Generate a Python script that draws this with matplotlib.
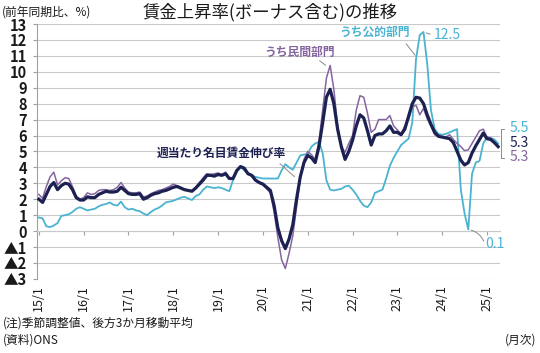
import numpy as np
import matplotlib
matplotlib.use("Agg")
import matplotlib.pyplot as plt

plt.rcParams['font.family'] = ['Noto Sans CJK JP', 'DejaVu Sans']

# 前年同期比(%)、2015/1〜2025/4 の月次(3か月移動平均)
total = [2.0, 1.8, 2.3, 2.8, 3.05, 2.6, 2.85, 3.0, 2.95, 2.6, 2.1, 1.95,
         1.95, 2.15, 2.1, 2.1, 2.3, 2.4, 2.5, 2.45, 2.45, 2.5, 2.75, 2.55,
         2.35, 2.3, 2.3, 2.35, 2.0, 2.1, 2.25, 2.35, 2.4, 2.5, 2.55, 2.65,
         2.75, 2.8, 2.7, 2.6, 2.55, 2.5, 2.7, 2.95, 3.2, 3.5, 3.5, 3.45,
         3.55, 3.5, 3.6, 3.3, 3.3, 3.8, 4.05, 3.95, 3.6, 3.5, 3.2, 3.05,
         2.95, 2.75, 2.55, 1.6, 0.2, -0.6, -1.1, -0.5, 0.4, 2.0, 3.4, 4.3,
         4.75, 4.6, 4.3, 5.3, 6.8, 8.4, 8.9, 8.0, 6.4, 5.3, 4.5, 5.0,
         5.7, 6.6, 7.3, 7.1, 6.3, 5.4, 6.0, 6.1, 6.1, 6.3, 6.6, 6.2,
         6.2, 6.05, 6.4, 7.2, 8.0, 8.4, 8.35, 8.0, 7.3, 6.7, 6.2, 5.95,
         5.9, 5.85, 5.8, 5.55, 5.0, 4.45, 4.15, 4.3, 4.9, 5.35, 5.75, 6.15,
         5.8, 5.75, 5.55, 5.3]
private = [2.3, 2.05, 2.8, 3.4, 3.7, 2.9, 3.15, 3.35, 3.3, 2.8, 2.2, 2.0,
           2.1, 2.4, 2.3, 2.35, 2.55, 2.6, 2.6, 2.55, 2.6, 2.75, 3.05, 2.7,
           2.45, 2.4, 2.4, 2.45, 2.15, 2.2, 2.35, 2.45, 2.55, 2.6, 2.7, 2.8,
           2.95, 2.85, 2.75, 2.6, 2.55, 2.55, 2.75, 3.05, 3.35, 3.6, 3.55, 3.6,
           3.65, 3.55, 3.7, 3.3, 3.35, 3.85, 4.05, 3.95, 3.6, 3.45, 3.15, 3.0,
           2.9, 2.65, 2.4, 1.2, -0.4, -1.8, -2.35, -1.4, -0.3, 1.5, 3.3, 4.5,
           5.0, 4.8, 4.5, 5.6, 7.6, 9.6, 10.4, 8.9, 6.6, 5.3, 4.95, 5.5,
           6.0, 7.6, 8.5, 8.4, 7.4, 6.2, 6.4, 7.0, 7.0, 7.0, 7.25, 6.6,
           6.35, 6.1, 6.6, 7.0, 7.8, 7.9, 7.3, 7.7, 7.05, 6.6, 6.05, 5.95,
           5.9, 5.9, 6.05, 5.75, 5.5, 5.3, 5.05, 5.1, 5.5, 5.9, 6.3, 6.4,
           5.9, 5.85, 5.6, 5.3]
public = [0.85, 0.8, 0.3, 0.25, 0.35, 0.5, 0.95, 1.0, 1.05, 1.2, 1.4, 1.5,
          1.4, 1.3, 1.35, 1.4, 1.55, 1.65, 1.7, 1.8, 1.65, 1.6, 1.85, 1.5,
          1.35, 1.4, 1.3, 1.25, 1.1, 1.0, 1.2, 1.35, 1.45, 1.6, 1.8, 1.85,
          1.9, 2.0, 2.1, 2.15, 2.05, 1.95, 2.2, 2.3, 2.6, 2.8, 2.75, 2.7,
          2.75, 2.7, 2.6, 2.5, 3.2, 3.8, 4.05, 3.8, 3.6, 3.5, 3.4, 3.35,
          3.3, 3.3, 3.3, 3.3, 3.3, 3.8, 4.2, 4.0, 3.85, 4.3, 4.75, 4.8,
          4.85, 5.3, 5.5, 5.6, 4.9, 3.2, 2.6, 2.55, 2.6, 2.65, 2.8, 2.85,
          2.6, 2.3, 1.9, 1.6, 1.5, 1.8, 2.4, 2.5, 2.6, 3.3, 4.1, 4.6,
          5.0, 5.4, 5.6, 5.8, 6.8, 10.8, 12.3, 12.5, 10.5, 7.6, 6.4, 6.1,
          6.05, 6.1, 6.2, 6.3, 6.4, 2.6, 1.1, 0.1, 3.6, 4.3, 4.4, 5.5,
          5.9, 5.85, 5.75, 5.5]

year_labels = ['15/1', '16/1', '17/1', '18/1', '19/1', '20/1',
               '21/1', '22/1', '23/1', '24/1', '25/1']
y_ticks = list(range(-3, 14))
y_labels = ['▲3', '▲2', '▲1'] + [str(v) for v in range(0, 14)]

c_total = '#1d2152'
c_private = '#85659f'
c_public = '#4ab3d2'
c_grid = '#c9c9c9'
c_lead = '#8a8a8a'

months = np.arange(len(total))

fig = plt.figure(figsize=(5.4, 3.53), dpi=100)
ax = fig.add_axes([0.0685, 0.21, 0.8575, 0.722])

ax.plot(months, public, color=c_public, lw=1.3, zorder=3)
ax.plot(months, private, color=c_private, lw=1.1, zorder=4)
ax.plot(months, total, color=c_total, lw=2.3, zorder=5)

# 軸(下の軸線は0の位置、ラベルは下端)
for s in ['top', 'right']:
    ax.spines[s].set_visible(False)
ax.spines['bottom'].set_position(('data', 0))
ax.spines['bottom'].set_color(c_grid)
ax.spines['left'].set_color('#a0a0a0')

ax.set_xlim(-0.5, len(total) - 0.5)
ax.set_ylim(-3, 13)
ax.set_yticks(y_ticks)
ax.set_yticklabels(y_labels, fontsize=10.5, color='#1a1a1a', fontweight='bold')
ax.set_xticks(np.arange(len(year_labels)) * 12)
ax.set_xticklabels(year_labels, fontsize=9, color='#1a1a1a')
ax.tick_params(axis='x', length=3, color='#a0a0a0', pad=36, labelrotation=90)
ax.tick_params(axis='y', length=3, color='#a0a0a0', pad=4)

ax.grid(axis='y', color=c_grid, lw=0.8)
ax.set_axisbelow(True)

# 系列ラベルと引き出し線
lead = dict(arrowstyle='-', color=c_lead, lw=0.7)
ax.text(99.4, 12.45, 'うち公的部門', color=c_public, fontsize=8.5,
        fontweight='bold', ha='right', va='center')
ax.annotate('', xy=(101.2, 10.9), xytext=(97.9, 11.9), arrowprops=lead)
ax.text(105.8, 12.3, '12.5', color=c_public, fontsize=10,
        ha='left', va='center')
ax.annotate('', xy=(103, 12.5), xytext=(105.5, 12.3), arrowprops=lead)

ax.text(79.3, 11.2, 'うち民間部門', color=c_private, fontsize=8.5,
        fontweight='bold', ha='right', va='center')
ax.annotate('', xy=(77.4, 10.3), xytext=(74.6, 10.8), arrowprops=lead)

ax.text(31.6, 4.9, '週当たり名目賃金伸び率', color=c_total, fontsize=8.5,
        fontweight='bold', ha='left', va='center')
ax.annotate('', xy=(69, 3.3), xytext=(64, 4.35), arrowprops=lead)

ax.text(119.6, -0.8, '0.1', color=c_public, fontsize=10,
        ha='left', va='center')
ax.annotate('', xy=(115, 0.1), xytext=(119.4, -0.8),
            arrowprops=dict(arrowstyle='-', color=c_lead, lw=0.7,
                            connectionstyle='arc3,rad=0.3'))

# 右端の値
ax.plot([124.6, 123.7, 123.7, 124.6], [6.4, 6.4, 4.6, 4.6],
        color=c_lead, lw=0.7, clip_on=False)
ax.text(126.0, 6.45, '5.5', color=c_public, fontsize=10, va='center')
ax.text(126.0, 5.55, '5.3', color=c_total, fontsize=10, va='center')
ax.text(126.0, 4.65, '5.3', color=c_private, fontsize=10, va='center')

fig.text(0.5, 0.965, '賃金上昇率(ボーナス含む)の推移', ha='center', va='center',
         fontsize=12.5, color='#1a1a1a')
fig.text(0.004, 0.965, '(前年同期比、%)', ha='left', va='center',
         fontsize=8.5, color='#1a1a1a')
fig.text(0.006, 0.085, '(注)季節調整値、後方3か月移動平均', ha='left',
         va='center', fontsize=8.5, color='#1a1a1a')
fig.text(0.006, 0.037, '(資料)ONS', ha='left', va='center',
         fontsize=8.5, color='#1a1a1a')
fig.text(0.993, 0.037, '(月次)', ha='right', va='center',
         fontsize=8.5, color='#1a1a1a')

fig.savefig('out.png', dpi=100)
